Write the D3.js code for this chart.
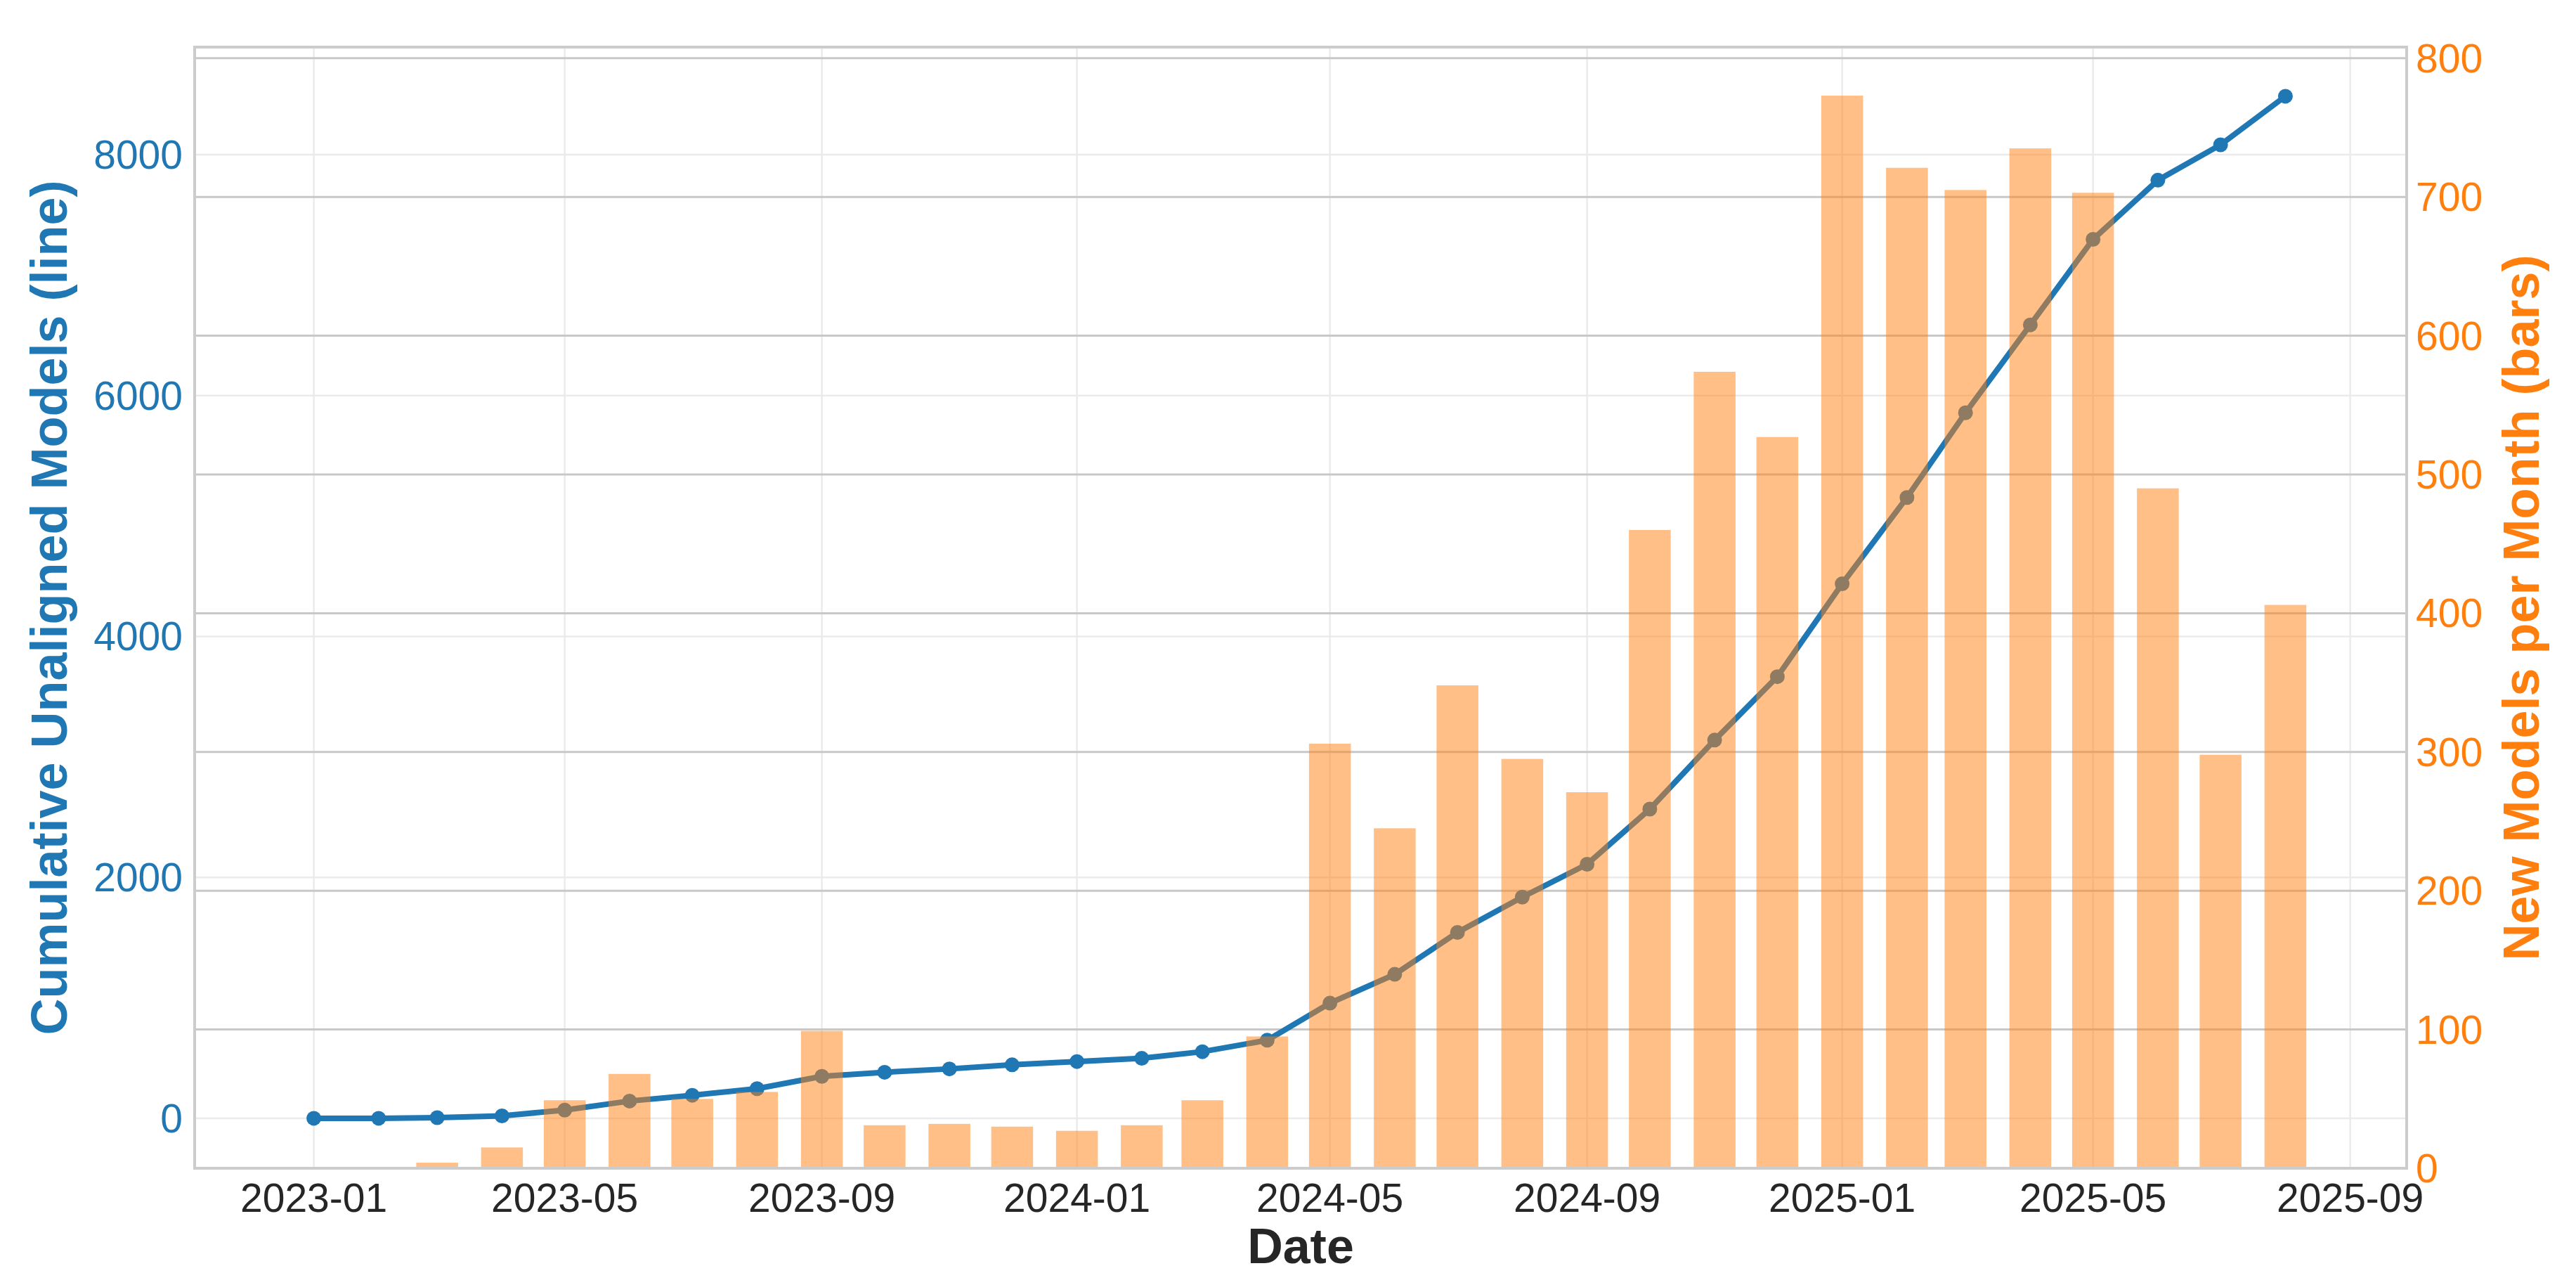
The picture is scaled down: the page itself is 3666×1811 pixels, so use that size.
<!DOCTYPE html>
<html lang="en">
<head>
<meta charset="UTF-8" />
<title>Cumulative Unaligned Models</title>
<script src="https://d3js.org/d3.v7.min.js"></script>
<style>
  body {margin: 0; background: #fff; font-family: "Liberation Sans", Arial, sans-serif;}
</style>
</head>
<body>
<script>
// months 2023-01 .. 2025-08
const months = ["2023-01","2023-02","2023-03","2023-04","2023-05","2023-06","2023-07","2023-08",
  "2023-09","2023-10","2023-11","2023-12","2024-01","2024-02","2024-03","2024-04",
  "2024-05","2024-06","2024-07","2024-08","2024-09","2024-10","2024-11","2024-12",
  "2025-01","2025-02","2025-03","2025-04","2025-05","2025-06","2025-07","2025-08"];
const cumulative = [0, 0, 5, 20, 68, 143, 191, 246, 348, 382, 410, 444, 471, 498, 553, 648,
  956, 1195, 1543, 1836, 2109, 2567, 3140, 3666, 4437, 5154, 5857, 6587, 7297, 7788, 8082, 8485];
const newPerMonth = [0, 0, 4, 15, 49, 68, 50, 55, 99, 31, 32, 30, 27, 31, 49, 95,
  306, 245, 348, 295, 271, 460, 574, 527, 773, 721, 705, 735, 703, 490, 298, 406];
const leftTicks = [0, 2000, 4000, 6000, 8000];
const rightTicks = [0, 100, 200, 300, 400, 500, 600, 700, 800];
const xTicks = ["2023-01","2023-05","2023-09","2024-01","2024-05","2024-09","2025-01","2025-05","2025-09"];

const W = 3666, H = 1811;
const L = 277, R = 3425, T = 67, B = 1662;
const parse = d3.timeParse("%Y-%m");

const svg = d3.select("body").append("svg").attr("width", W).attr("height", H);

const x = d3.scaleTime()
  .domain([new Date(2022, 10, 5), new Date(2025, 8, 28)])
  .range([L, R]);
const yL = d3.scaleLinear().domain([-415, 8893]).range([B, T]);
const yR = d3.scaleLinear().domain([0, 808]).range([B, T]);

// light grid (left axis + x)
const grid = svg.append("g");
grid.selectAll(".gx").data(xTicks).join("line")
  .attr("x1", d => x(parse(d))).attr("x2", d => x(parse(d)))
  .attr("y1", T).attr("y2", B).attr("stroke", "#ebebeb").attr("stroke-width", 2.5);
grid.selectAll(".gy").data(leftTicks).join("line")
  .attr("x1", L).attr("x2", R).attr("y1", d => yL(d)).attr("y2", d => yL(d))
  .attr("stroke", "#ebebeb").attr("stroke-width", 2.5);
// right axis grid (darker)
grid.selectAll(".gr").data(rightTicks).join("line")
  .attr("x1", L).attr("x2", R).attr("y1", d => yR(d)).attr("y2", d => yR(d))
  .attr("stroke", "#c8c8c8").attr("stroke-width", 3);

// line
const pts = months.map((m, i) => ({date: parse(m), v: cumulative[i], n: newPerMonth[i]}));
svg.append("path").datum(pts)
  .attr("d", d3.line().x(d => x(d.date)).y(d => yL(d.v)))
  .attr("fill", "none").attr("stroke", "#1f77b4").attr("stroke-width", 8);
svg.selectAll(".pt").data(pts).join("circle")
  .attr("cx", d => x(d.date)).attr("cy", d => yL(d.v)).attr("r", 10.5).attr("fill", "#1f77b4");

// bars on top, semi-transparent
const bw = x(new Date(2023, 0, 21)) - x(new Date(2023, 0, 1));
svg.selectAll(".bar").data(pts).join("rect")
  .attr("x", d => x(d.date) - bw / 2).attr("width", bw)
  .attr("y", d => yR(d.n)).attr("height", d => B - yR(d.n))
  .attr("fill", "#ff7f0e").attr("opacity", 0.5);

// frame
svg.append("rect").attr("x", L).attr("y", T).attr("width", R - L).attr("height", B - T)
  .attr("fill", "none").attr("stroke", "#cccccc").attr("stroke-width", 4);

// tick labels
svg.selectAll(".lt").data(leftTicks).join("text")
  .attr("x", 260).attr("y", d => yL(d)).attr("dy", "0.35em").attr("text-anchor", "end")
  .attr("font-size", 57).attr("fill", "#1f77b4").text(d => d);
svg.selectAll(".rt").data(rightTicks).join("text")
  .attr("x", 3438).attr("y", d => yR(d)).attr("dy", "0.35em").attr("text-anchor", "start")
  .attr("font-size", 57).attr("fill", "#ff7f0e").text(d => d);
svg.selectAll(".xt").data(xTicks).join("text")
  .attr("x", d => x(parse(d))).attr("y", 1704).attr("dy", "0.35em").attr("text-anchor", "middle")
  .attr("font-size", 57).attr("fill", "#262626").text(d => d);

// axis titles
svg.append("text").attr("x", (L + R) / 2).attr("y", 1772).attr("dy", "0.35em")
  .attr("text-anchor", "middle").attr("font-size", 70).attr("font-weight", "bold")
  .attr("fill", "#262626").text("Date");
svg.append("text").attr("transform", `translate(70, ${(T + B) / 2}) rotate(-90)`)
  .attr("dy", "0.35em").attr("text-anchor", "middle").attr("font-size", 72)
  .attr("font-weight", "bold").attr("fill", "#1f77b4").text("Cumulative Unaligned Models (line)");
svg.append("text").attr("transform", `translate(3588, ${(T + B) / 2}) rotate(-90)`)
  .attr("dy", "0.35em").attr("text-anchor", "middle").attr("font-size", 72)
  .attr("font-weight", "bold").attr("fill", "#ff7f0e").text("New Models per Month (bars)");
</script>
</body>
</html>
